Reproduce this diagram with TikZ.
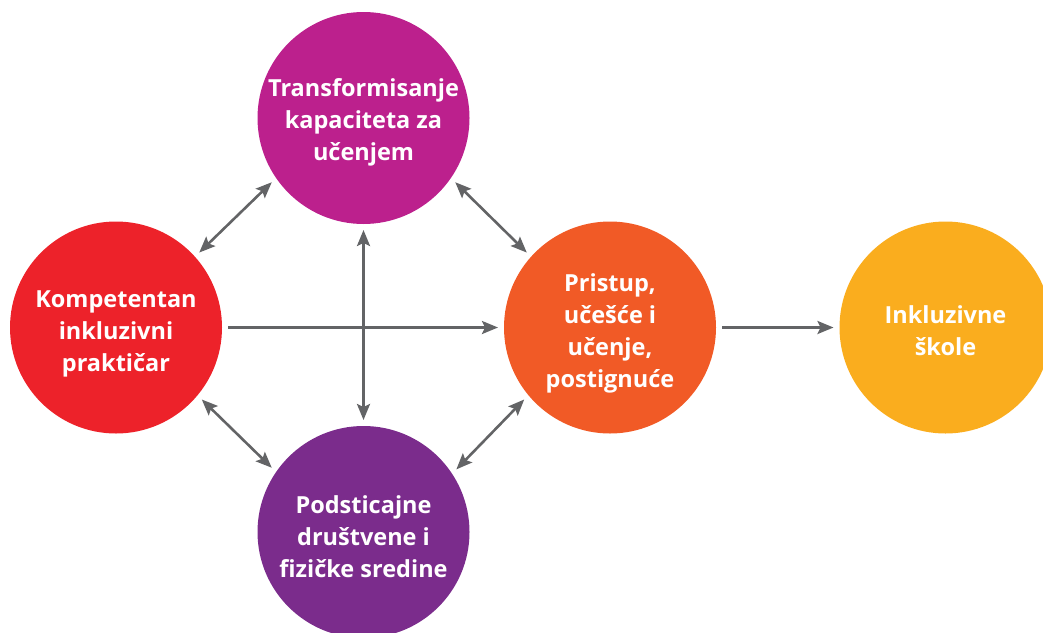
\documentclass[tikz,border=0pt]{standalone}
\usepackage{fontspec}
\setmainfont{Open Sans}
\usetikzlibrary{arrows.meta}
\definecolor{cMag}{RGB}{188,32,141}
\definecolor{cRed}{RGB}{237,34,42}
\definecolor{cOra}{RGB}{241,90,38}
\definecolor{cYel}{RGB}{250,173,30}
\definecolor{cPur}{RGB}{123,44,140}
\definecolor{cGray}{RGB}{99,100,102}
\begin{document}
\begin{tikzpicture}[x=1pt,y=-1pt,
  disc/.style={circle, minimum size=212pt, inner sep=0pt, outer sep=6pt, draw=none},
  lbl/.style={text=white, font=\fontsize{23.5}{32}\selectfont\bfseries, align=center, inner sep=0pt},
  tip/.tip={Stealth[length=16pt,width=13pt,inset=3pt]},
  conn/.style={draw=cGray, line width=2.6pt, -tip},
  dconn/.style={draw=cGray, line width=2.6pt, tip-tip}]
\useasboundingbox (0,0) rectangle (1043,632);
\clip (0,0) rectangle (1043,632);
\node[disc, fill=cMag] (T) at (363.5,118) {};
\node[disc, fill=cRed] (L) at (116,327.5) {};
\node[disc, fill=cOra] (M) at (610,327.5) {};
\node[disc, fill=cYel] (Y) at (945.5,327.5) {};
\node[disc, fill=cPur] (B) at (363.5,532) {};
\node[lbl] (Tt) at (363.5,122) {Transformisanje\\kapaciteta za\\učenjem};
\node[lbl] (Lt) at (116,334) {Kompetentan\\inkluzivni\\praktičar};
\node[lbl] (Mt) at (610,333) {Pristup,\\učešće i\\učenje,\\postignuće};
\node[lbl] (Yt) at (945.5,331) {Inkluzivne\\škole};
\node[lbl] (Bt) at (363.5,537) {Podsticajne\\društvene i\\fizičke sredine};
\draw[dconn] (L.42) -- (T.215);
\draw[dconn] (T.325) -- (M.138);
\draw[dconn] (L.320) -- (B.145);
\draw[dconn] (M.220) -- (B.34);
\draw[dconn] (T.270) -- (B.90);
\draw[conn] (L.0) -- (M.180);
\draw[conn] (M.0) -- (Y.180);
\end{tikzpicture}
\end{document}
